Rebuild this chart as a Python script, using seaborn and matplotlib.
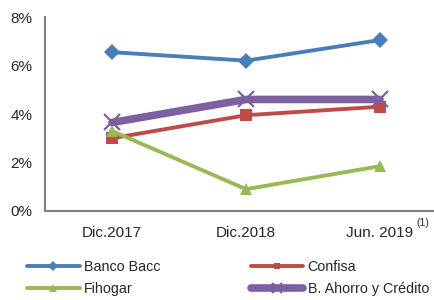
import matplotlib
matplotlib.use('Agg')
import matplotlib.pyplot as plt
import seaborn as sns
import pandas as pd
from matplotlib.lines import Line2D
from matplotlib.ticker import PercentFormatter

periods = ['Dic.2017', 'Dic.2018', 'Jun. 2019']
banco_bacc = [6.55, 6.2, 7.05]
confisa = [3.0, 3.95, 4.3]
fihogar = [3.3, 0.9, 1.85]
ahorro_credito = [3.65, 4.6, 4.6]

series = {
    'Banco Bacc': banco_bacc,
    'Confisa': confisa,
    'Fihogar': fihogar,
    'B. Ahorro y Crédito': ahorro_credito,
}
styles = {
    'Banco Bacc': dict(color='#4A7EBB', marker='D', lw=2.8, ms=8, mew=0),
    'Confisa': dict(color='#BE4B48', marker='s', lw=2.8, ms=8, mew=0),
    'Fihogar': dict(color='#98B954', marker='^', lw=2.8, ms=9, mew=0),
    'B. Ahorro y Crédito': dict(color='#7D60A0', marker='x', lw=5.5, ms=12, mew=1.6),
}

rows = []
for name, vals in series.items():
    for i, v in enumerate(vals):
        rows.append({'serie': name, 'x': i, 'valor': v})
df = pd.DataFrame(rows)

sns.set_style('white')
plt.rcParams['font.family'] = ['Liberation Sans', 'DejaVu Sans']

fig = plt.figure(figsize=(4.35, 3.0), dpi=100)
ax = fig.add_axes([0.1034, 0.2967, 0.8966, 0.6466])

handles = {}
for name in series:
    st = styles[name]
    sub = df[df['serie'] == name]
    sns.lineplot(data=sub, x='x', y='valor', ax=ax, color=st['color'],
                 linewidth=st['lw'], marker=st['marker'], markersize=st['ms'],
                 markeredgewidth=st['mew'], markeredgecolor=st['color'],
                 legend=False)
    handles[name] = Line2D([], [], color=st['color'], lw=st['lw'],
                           marker=st['marker'], ms=st['ms'] * 0.6,
                           mew=st['mew'], mec=st['color'])

ax.set_xlim(-0.5, 2.41)
ax.set_ylim(0, 8)
ax.set_yticks([0, 2, 4, 6, 8])
ax.yaxis.set_major_formatter(PercentFormatter(decimals=0))
ax.set_xticks([0, 1, 2])
ax.set_xticklabels(periods)
ax.set_xticks([-0.5, 0.5, 1.5], minor=True)
ax.tick_params(axis='x', which='major', length=0, pad=11, labelsize=11)
ax.tick_params(axis='x', which='minor', length=5, width=1.2, color='#808080', direction='out')
ax.tick_params(axis='y', length=5, width=1.2, color='#808080', direction='out', labelsize=11, pad=4)
ax.set_xlabel('')
ax.set_ylabel('')
for s in ['top', 'right']:
    ax.spines[s].set_visible(False)
for s in ['left', 'bottom']:
    ax.spines[s].set_color('#808080')
    ax.spines[s].set_linewidth(1.5)

ax.text(2.27, -0.5, '(1)', fontsize=7.5, ha='left', va='center', transform=ax.transData)

order = ['Banco Bacc', 'Fihogar', 'Confisa', 'B. Ahorro y Crédito']
fig.legend([handles[n] for n in order], order, ncol=2, loc='lower left',
           bbox_to_anchor=(0.032, -0.03), frameon=False, fontsize=10.3,
           handlelength=3.7, handletextpad=0.3, columnspacing=6.3,
           labelspacing=0.6)

fig.savefig('out.png', dpi=100)
